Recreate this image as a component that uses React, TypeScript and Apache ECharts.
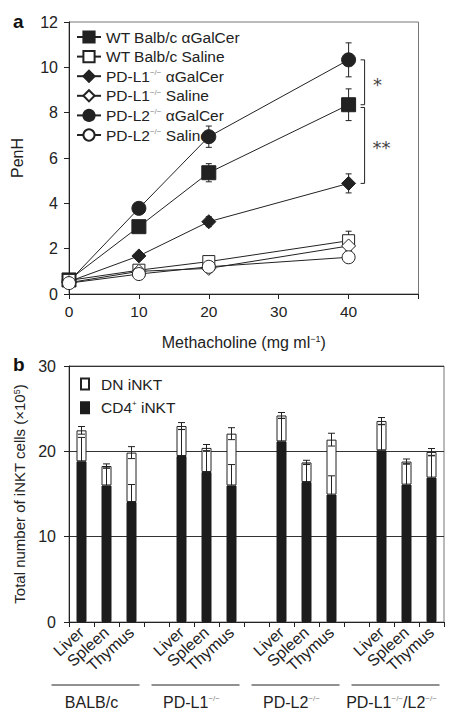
import React, { useEffect, useRef } from 'react';
import * as echarts from 'echarts';

// ---------- Panel a data ----------
const doses = [0, 10, 20, 40];
const lineNames = [
  'WT Balb/c αGalCer',
  'WT Balb/c Saline',
  'PD-L1−/− αGalCer',
  'PD-L1−/− Saline',
  'PD-L2−/− αGalCer',
  'PD-L2−/− Saline',
];
const wtGalCer = [0.62, 2.97, 5.35, 8.35];
const wtSaline = [0.6, 1.05, 1.43, 2.35];
const l1GalCer = [0.55, 1.68, 3.19, 4.88];
const l1Saline = [0.5, 1.0, 1.13, 2.12];
const l2GalCer = [0.55, 3.78, 6.94, 10.33];
const l2Saline = [0.48, 0.88, 1.2, 1.62];
const wtGalCerErr = [0.1, 0.15, 0.4, 0.7];
const wtSalineErr = [0.1, 0.1, 0.15, 0.42];
const l1GalCerErr = [0.1, 0.1, 0.22, 0.42];
const l1SalineErr = [0.05, 0.05, 0.1, 0.2];
const l2GalCerErr = [0.1, 0.2, 0.47, 0.75];
const l2SalineErr = [0.05, 0.05, 0.1, 0.15];
const xTicks = [0, 10, 20, 30, 40];

// ---------- Panel b data ----------
const organs = ['Liver', 'Spleen', 'Thymus'];
const strains = ['BALB/c', 'PD-L1', 'PD-L2', 'PD-L1/L2'];
const strainLabels = ['BALB/c', 'PD-L1{s|−/−}', 'PD-L2{s|−/−}', 'PD-L1{s|−/−}/L2{s|−/−}'];
const barNames = ['DN iNKT', 'CD4+ iNKT'];
const cd4Values = [18.83, 16.0, 14.06, 19.45, 17.58, 16.0, 21.17, 16.4, 14.93, 20.12, 16.1, 16.92];
const totalValues = [22.46, 18.28, 19.85, 22.97, 20.4, 22.07, 24.2, 18.7, 21.37, 23.56, 18.8, 19.93];
const totalErr = [0.45, 0.25, 0.7, 0.4, 0.4, 0.7, 0.35, 0.25, 0.75, 0.4, 0.3, 0.4];
const cd4Err = [2.8, 2.05, 2.05, 3.1, 2.5, 2.45, 2.7, 2.1, 2.2, 3.0, 2.45, 2.55];

const FONT = "'Liberation Sans', Arial, Helvetica, sans-serif";
const INK = '#222';

function buildOption() {
  // panel a
  const lineDefs = [
    { v: wtGalCer, e: wtGalCerErr, sym: 'rect', size: 14, fill: INK },
    { v: wtSaline, e: wtSalineErr, sym: 'rect', size: 12, fill: '#fff' },
    { v: l1GalCer, e: l1GalCerErr, sym: 'diamond', size: 14, fill: INK },
    { v: l1Saline, e: l1SalineErr, sym: 'diamond', size: 14, fill: '#fff' },
    { v: l2GalCer, e: l2GalCerErr, sym: 'circle', size: 14, fill: INK },
    { v: l2Saline, e: l2SalineErr, sym: 'circle', size: 13, fill: '#fff' },
  ];
  const lineSeries = lineDefs.map((d, i) => ({
    name: lineNames[i],
    type: 'line',
    xAxisIndex: 0,
    yAxisIndex: 0,
    data: doses.map((x, j) => [x, d.v[j]]),
    symbol: d.sym,
    symbolSize: d.size,
    showSymbol: true,
    itemStyle: { color: d.fill, borderColor: INK, borderWidth: 1 },
    lineStyle: { color: INK, width: 1 },
    z: 3 + (d.fill === '#fff' ? 1 : 0),
  }));
  const errData: number[][] = [];
  lineDefs.forEach((d) => {
    doses.forEach((x, j) => errData.push([x, d.v[j], d.e[j]]));
  });
  const errSeriesA = {
    type: 'custom',
    xAxisIndex: 0,
    yAxisIndex: 0,
    data: errData,
    z: 2,
    silent: true,
    renderItem: (params: any, api: any) => {
      const x = api.value(0), y = api.value(1), e = api.value(2);
      const top = api.coord([x, y + e]);
      const bot = api.coord([x, y - e]);
      const cw = 3;
      const st = { stroke: INK, lineWidth: 1 };
      return {
        type: 'group',
        children: [
          { type: 'line', shape: { x1: top[0], y1: top[1], x2: bot[0], y2: bot[1] }, style: st },
          { type: 'line', shape: { x1: top[0] - cw, y1: top[1], x2: top[0] + cw, y2: top[1] }, style: st },
          { type: 'line', shape: { x1: bot[0] - cw, y1: bot[1], x2: bot[0] + cw, y2: bot[1] }, style: st },
        ],
      };
    },
  };
  const last = doses.length - 1;
  const bracketData = [
    [doses[last], l2GalCer[last], wtGalCer[last], 1],
    [doses[last], wtGalCer[last] - 0.12, l1GalCer[last], 2],
  ];
  const bracketSeries = {
    type: 'custom',
    xAxisIndex: 0,
    yAxisIndex: 0,
    data: bracketData,
    clip: false,
    silent: true,
    z: 5,
    renderItem: (params: any, api: any) => {
      const x = api.value(0);
      const a = api.coord([x, api.value(1)]);
      const b = api.coord([x, api.value(2)]);
      const n = api.value(3);
      const bx = a[0] + 16;
      const st = { stroke: INK, lineWidth: 1 };
      return {
        type: 'group',
        children: [
          { type: 'line', shape: { x1: bx, y1: a[1], x2: bx, y2: b[1] }, style: st },
          { type: 'line', shape: { x1: bx - 4, y1: a[1], x2: bx, y2: a[1] }, style: st },
          { type: 'line', shape: { x1: bx - 4, y1: b[1], x2: bx, y2: b[1] }, style: st },
          {
            type: 'text',
            style: {
              text: n === 1 ? '*' : '**',
              x: bx + 13 + (n === 1 ? 0 : 4),
              y: (a[1] + b[1]) / 2 + 2,
              align: 'center',
              verticalAlign: 'middle',
              fontSize: 18,
              fontFamily: 'DejaVu Sans',
              fill: '#444',
            },
          },
        ],
      };
    },
  };

  // panel b
  const slotKeys: string[] = [];
  const slotBar: number[] = [];
  strains.forEach((s, si) => {
    organs.forEach((o, oi) => {
      slotKeys.push(s + '|' + o);
      slotBar.push(si * organs.length + oi);
    });
    if (si < strains.length - 1) {
      slotKeys.push('gap' + si);
      slotBar.push(-1);
    }
  });
  const cd4Data = slotBar.map((b) => (b < 0 ? '-' : cd4Values[b]));
  const dnData = slotBar.map((b) => (b < 0 ? '-' : +(totalValues[b] - cd4Values[b]).toFixed(2)));
  const barErrData: number[][] = [];
  slotBar.forEach((b, slot) => {
    if (b >= 0) barErrData.push([slot, totalValues[b], totalErr[b], cd4Values[b], cd4Err[b]]);
  });
  const groupData = strains.map((s, si) => {
    const first = slotBar.indexOf(si * organs.length);
    return [first, first + organs.length - 1, si];
  });

  const barErrSeries = {
    type: 'custom',
    xAxisIndex: 1,
    yAxisIndex: 1,
    data: barErrData,
    silent: true,
    z: 5,
    renderItem: (params: any, api: any) => {
      const s = api.value(0);
      const t = api.value(1), te = api.value(2), c = api.value(3), ce = api.value(4);
      const tTop = api.coord([s, t + te]);
      const tBot = api.coord([s, t - te]);
      const cBot = api.coord([s, c]);
      const cTop = api.coord([s, c + ce]);
      const cw = 3.5;
      const st = { stroke: INK, lineWidth: 1 };
      return {
        type: 'group',
        children: [
          { type: 'line', shape: { x1: tTop[0], y1: tTop[1], x2: tBot[0], y2: tBot[1] }, style: st },
          { type: 'line', shape: { x1: tTop[0] - cw, y1: tTop[1], x2: tTop[0] + cw, y2: tTop[1] }, style: st },
          { type: 'line', shape: { x1: tBot[0] - cw, y1: tBot[1], x2: tBot[0] + cw, y2: tBot[1] }, style: st },
          { type: 'line', shape: { x1: cTop[0], y1: cTop[1], x2: cBot[0], y2: cBot[1] }, style: st },
          { type: 'line', shape: { x1: cTop[0] - cw, y1: cTop[1], x2: cTop[0] + cw, y2: cTop[1] }, style: st },
        ],
      };
    },
  };

  const groupSeries = {
    type: 'custom',
    xAxisIndex: 1,
    yAxisIndex: 1,
    data: groupData,
    clip: false,
    silent: true,
    renderItem: (params: any, api: any) => {
      const p0 = api.coord([api.value(0), 0]);
      const p1 = api.coord([api.value(1), 0]);
      const idx = api.value(2);
      const x0 = p0[0] - 30;
      const x1 = p1[0] + 8;
      const y = p0[1] + 63;
      return {
        type: 'group',
        children: [
          { type: 'line', shape: { x1: x0, y1: y, x2: x1, y2: y }, style: { stroke: INK, lineWidth: 1 } },
          {
            type: 'text',
            style: {
              text: strainLabels[idx],
              x: (x0 + x1) / 2 - 4,
              y: y + 9,
              align: 'center',
              verticalAlign: 'top',
              fontSize: 16,
              fontFamily: FONT,
              fill: INK,
              rich: {
                s: { fontSize: 8, fill: '#888', verticalAlign: 'top', lineHeight: 8, fontFamily: FONT },
              },
            },
          },
        ],
      };
    },
  };

  const supRich = {
    s: { fontSize: 8, color: '#888', verticalAlign: 'top', lineHeight: 8, padding: [0, 0, 6, 0] },
  };

  return {
    animation: false,
    backgroundColor: '#fff',
    textStyle: { fontFamily: FONT, color: INK },
    graphic: [
      { type: 'text', left: 13, top: 12, style: { text: 'a', font: `bold 19px ${FONT}`, fill: '#111' } },
      { type: 'text', left: 13, top: 355, style: { text: 'b', font: `bold 19px ${FONT}`, fill: '#111' } },
    ],
    legend: [
      {
        data: lineNames,
        orient: 'vertical',
        left: 76,
        top: 29,
        padding: 0,
        itemWidth: 24,
        itemHeight: 14,
        itemGap: 3.6,
        formatter: (n: string) => n.replace('−/−', '{s|−/−}'),
        textStyle: { fontSize: 15.5, color: INK, fontFamily: FONT, lineHeight: 15, rich: supRich },
        selectedMode: false,
      },
      {
        data: barNames.map((n) => ({ name: n, icon: 'rect' })),
        orient: 'vertical',
        left: 80,
        top: 376,
        padding: 0,
        itemWidth: 8,
        itemHeight: 11,
        itemGap: 7.7,
        formatter: (n: string) => n.replace('+', '{p|+}'),
        textStyle: {
          fontSize: 15.5,
          color: INK,
          fontFamily: FONT,
          padding: [0, 0, 0, 7],
          rich: { p: { fontSize: 8, color: INK, verticalAlign: 'top', lineHeight: 8, padding: [0, 0, 6, 0] } },
        },
        selectedMode: false,
      },
    ],
    grid: [
      { left: 69, right: 40.5, top: 22, height: 272, show: true, borderColor: '#777', borderWidth: 1, containLabel: false },
      { left: 69, right: 15, top: 366, height: 256, show: true, borderColor: '#777', borderWidth: 1, containLabel: false },
    ],
    xAxis: [
      {
        type: 'value',
        gridIndex: 0,
        min: 0,
        max: 50,
        interval: 10,
        axisLine: { show: true, lineStyle: { color: INK, width: 1 } },
        axisTick: { show: true, length: 5, lineStyle: { color: INK } },
        splitLine: { show: false },
        axisLabel: {
          fontSize: 15.5,
          color: INK,
          margin: 9,
          formatter: (v: number) => (xTicks.indexOf(v) >= 0 ? String(v) : ''),
        },
        name: 'Methacholine (mg ml{s|−1})',
        nameLocation: 'middle',
        nameGap: 40,
        nameTextStyle: {
          fontSize: 16,
          color: INK,
          rich: { s: { fontSize: 9, color: INK, verticalAlign: 'top', lineHeight: 9, padding: [0, 0, 6, 0] } },
        },
      },
      {
        type: 'category',
        gridIndex: 1,
        data: slotKeys,
        boundaryGap: true,
        axisLine: { show: true, lineStyle: { color: INK, width: 1 } },
        axisTick: { show: true, length: 5, alignWithLabel: false, interval: 0, lineStyle: { color: INK } },
        axisLabel: {
          interval: 0,
          rotate: 42,
          fontSize: 16,
          color: INK,
          margin: 8,
          formatter: (v: string) => (v.indexOf('|') >= 0 ? v.split('|')[1] : ''),
        },
        splitLine: { show: false },
      },
    ],
    yAxis: [
      {
        type: 'value',
        gridIndex: 0,
        min: 0,
        max: 12,
        interval: 2,
        axisLine: { show: true, lineStyle: { color: INK, width: 1 } },
        axisTick: { show: true, length: 5, lineStyle: { color: INK } },
        splitLine: { show: false },
        axisLabel: { fontSize: 16, color: INK, margin: 11 },
        name: 'PenH',
        nameLocation: 'middle',
        nameGap: 44,
        nameTextStyle: { fontSize: 16, color: INK },
      },
      {
        type: 'value',
        gridIndex: 1,
        min: 0,
        max: 30,
        interval: 10,
        axisLine: { show: true, lineStyle: { color: INK, width: 1 } },
        axisTick: { show: true, length: 5, lineStyle: { color: INK } },
        splitLine: { show: true, lineStyle: { color: '#333', width: 1 } },
        axisLabel: { fontSize: 16, color: INK, margin: 13 },
        name: 'Total number of iNKT cells (×10{s|5})',
        nameLocation: 'middle',
        nameGap: 42,
        nameTextStyle: {
          fontSize: 15,
          color: INK,
          rich: { s: { fontSize: 9, color: INK, verticalAlign: 'top', lineHeight: 9, padding: [0, 0, 6, 0] } },
        },
      },
    ],
    series: [
      errSeriesA,
      ...lineSeries,
      bracketSeries,
      {
        name: barNames[1],
        type: 'bar',
        xAxisIndex: 1,
        yAxisIndex: 1,
        stack: 'cells',
        data: cd4Data,
        barWidth: 10,
        itemStyle: { color: '#1c1c1c', borderColor: '#1c1c1c', borderWidth: 1 },
      },
      {
        name: barNames[0],
        type: 'bar',
        xAxisIndex: 1,
        yAxisIndex: 1,
        stack: 'cells',
        data: dnData,
        barWidth: 10,
        itemStyle: { color: '#fff', borderColor: INK, borderWidth: 1 },
      },
      barErrSeries,
      groupSeries,
    ],
  };
}

export default function App() {
  const ref = useRef<HTMLDivElement>(null);
  useEffect(() => {
    if (!ref.current) return;
    const chart = echarts.init(ref.current, undefined, { renderer: 'svg' });
    chart.setOption(buildOption() as any);
    return () => chart.dispose();
  }, []);
  return (
    <div
      ref={ref}
      style={{ position: 'absolute', left: 0, top: 0, width: 459, height: 720, background: '#fff' }}
    />
  );
}
